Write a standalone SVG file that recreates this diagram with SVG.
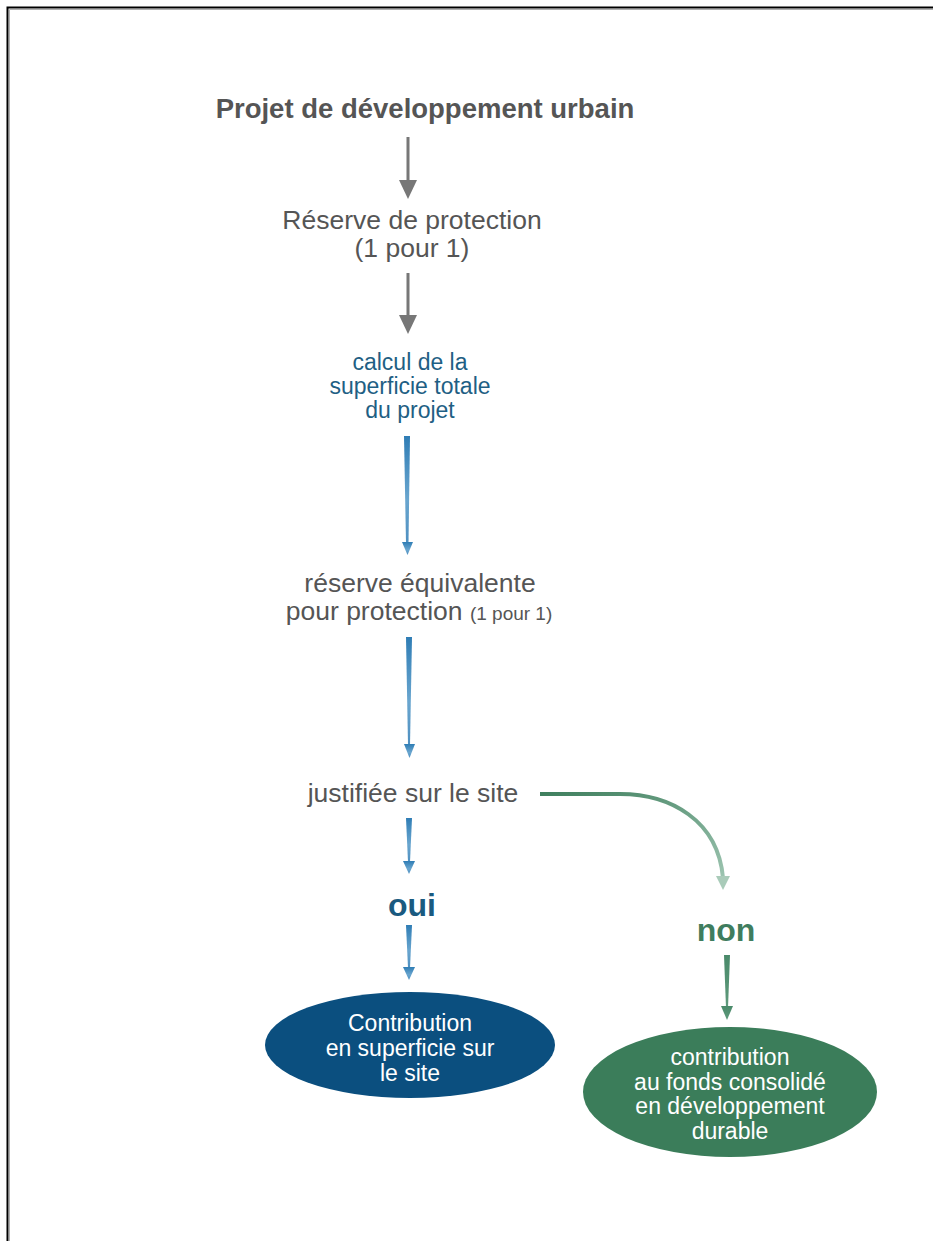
<svg xmlns="http://www.w3.org/2000/svg" width="933" height="1241" viewBox="0 0 933 1241">
<defs>
<style>
.t{font-family:"Liberation Sans",Arial,sans-serif;text-anchor:middle}
.g{fill:#555555;font-size:26.5px}
.b{fill:#1f5f84;font-size:23px}
.w{fill:#ffffff;font-size:23px}
</style>
<linearGradient id="bl" x1="0" y1="0" x2="0" y2="1">
<stop offset="0" stop-color="#2f7db5"/>
<stop offset="0.6" stop-color="#6aa6cf"/>
<stop offset="1" stop-color="#4e8fc0"/>
</linearGradient>
<linearGradient id="gr" x1="0" y1="0" x2="1" y2="1">
<stop offset="0" stop-color="#3f7f5e"/>
<stop offset="1" stop-color="#9cc4b0"/>
</linearGradient>
<linearGradient id="gv" x1="0" y1="0" x2="0" y2="1">
<stop offset="0" stop-color="#4a8a6a"/>
<stop offset="1" stop-color="#5f9a7c"/>
</linearGradient>
</defs>
<rect x="0" y="0" width="933" height="1241" fill="#ffffff"/>
<path d="M7.5 1241 V7.5 H933" fill="none" stroke="#000" stroke-width="2"/>
<path d="M9.5 1241 V9.5 H933" fill="none" stroke="#b0b0b0" stroke-width="1"/>

<g id="connectors">
<g fill="#777777">
<rect x="406.5" y="137" width="3" height="45"/>
<polygon points="399,180 417,180 408,199"/>
<rect x="406.5" y="273" width="3" height="44"/>
<polygon points="399,315 417,315 408,334"/>
</g>
<g fill="url(#bl)">
<polygon points="404,436 410,436 408.5,543 406,543"/>
<polygon points="402,542 413,542 407.5,555"/>
<polygon points="406,637 412,637 410,745 408,745"/>
<polygon points="404,744 415,744 409.5,758"/>
<polygon points="406,818 412,818 410,862 408,862"/>
<polygon points="403,861 415,861 409,874"/>
<polygon points="406,925 412,925 410,968 408,968"/>
<polygon points="403,967 415,967 409,980"/>
</g>
<path d="M540 794 L620 794 C670 794 718 820 723 878" fill="none" stroke="url(#gr)" stroke-width="4"/>
<polygon points="716,876 730,876 723,890" fill="#a9cbb9"/>
<g fill="url(#gv)">
<polygon points="724,955 730,955 728,1008 726,1008"/>
<polygon points="721,1006 733,1006 727,1020"/>
</g>
</g>

<g id="n1"><text class="t" x="425" y="118" font-size="27.5" font-weight="bold" fill="#555555">Projet de développement urbain</text></g>
<g id="n2"><text class="t g" x="412" y="229">Réserve de protection</text><text class="t g" x="412" y="257">(1 pour 1)</text></g>
<g id="n3"><text class="t b" x="410" y="370">calcul de la</text><text class="t b" x="410" y="394">superficie totale</text><text class="t b" x="410" y="418">du projet</text></g>
<g id="n4"><text class="t g" x="420" y="592">réserve équivalente</text><text class="t g" x="419" y="620">pour protection <tspan font-size="19">(1 pour 1)</tspan></text></g>
<g id="n5"><text class="t g" x="413" y="802">justifiée sur le site</text></g>
<g id="n6"><text class="t" x="412" y="916" font-size="32" font-weight="bold" fill="#1a5a80">oui</text></g>
<g id="n7"><text class="t" x="726" y="941" font-size="32" font-weight="bold" fill="#3f7d5e">non</text></g>
<g id="n8"><ellipse cx="410" cy="1045" rx="145" ry="53" fill="#0b4f7f"/><text class="t w" x="410" y="1031">Contribution</text><text class="t w" x="410" y="1056">en superficie sur</text><text class="t w" x="410" y="1081">le site</text></g>
<g id="n9"><ellipse cx="730" cy="1092" rx="147" ry="65" fill="#3b7d5a"/><text class="t w" x="730" y="1065">contribution</text><text class="t w" x="730" y="1090">au fonds consolidé</text><text class="t w" x="730" y="1114">en développement</text><text class="t w" x="730" y="1139">durable</text></g>
</svg>
